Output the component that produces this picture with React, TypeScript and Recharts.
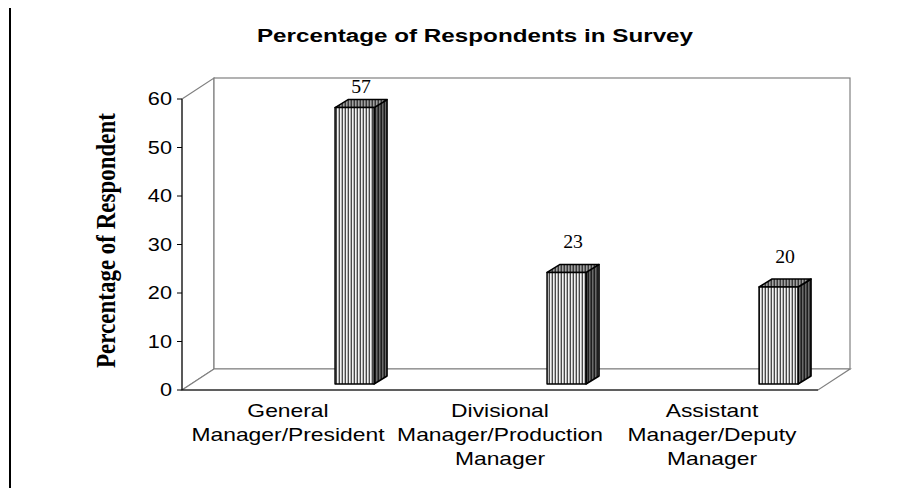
import { Bar, BarChart, LabelList, ReferenceArea, XAxis, YAxis } from 'recharts'

const categories = [
  'General\nManager/President',
  'Divisional\nManager/Production\nManager',
  'Assistant\nManager/Deputy\nManager',
]
const respondents = [57, 23, 20]
const valueTicks = [0, 10, 20, 30, 40, 50, 60]
const slotEdges = [0, 1, 2, 3]

const data = categories.map((name, i) => ({ name, value: respondents[i] }))
const valueDomain = [0, 60]
const slotDomain = [0, categories.length]

const MARGIN = { top: 99, right: 95, bottom: 45, left: 122 }
// text in this chart is drawn wide, so every label gets the same sideways scale
const STRETCH = 1.24
// offset of the back wall from the front plane
const DEPTH = { x: 32, y: 21 }
// column sits toward the back-right of its slot, lifted off the front edge
const COLUMN = { start: 0.722, size: 0.184, dx: 13, dy: 8, lift: 6 }
const SANS = '"Liberation Sans", Arial, sans-serif'
const SERIF = '"Liberation Serif", "Times New Roman", serif'

function Patterns() {
  return (
    <svg width={0} height={0} style={{ position: 'absolute' }}>
      <defs>
        <pattern id="stripe-front" patternUnits="userSpaceOnUse" width={3} height={10}>
          <rect width={3} height={10} fill="#f2f2f2" />
          <rect width={1} height={10} fill="#4a4a4a" />
          <rect x={2} width={1} height={10} fill="#b4b4b4" />
        </pattern>
        <pattern id="stripe-top" patternUnits="userSpaceOnUse" width={3} height={10}>
          <rect width={3} height={10} fill="#a0a0a0" />
          <rect width={1} height={10} fill="#3a3a3a" />
          <rect x={2} width={1} height={10} fill="#707070" />
        </pattern>
        <pattern id="stripe-side" patternUnits="userSpaceOnUse" width={3} height={10}>
          <rect width={3} height={10} fill="#6a6a6a" />
          <rect width={1} height={10} fill="#1e1e1e" />
          <rect x={2} width={1} height={10} fill="#444" />
        </pattern>
      </defs>
    </svg>
  )
}

function Walls({ x, y, width, height }: any) {
  const bx = x + DEPTH.x
  const by = y - DEPTH.y
  const floor = y + height
  return (
    <g fill="#fff" stroke="#808080" strokeWidth={1.2}>
      <polygon points={`${x},${y} ${bx},${by} ${bx},${floor - DEPTH.y} ${x},${floor}`} />
      <rect x={bx} y={by} width={width} height={height} />
      <polygon points={`${x},${floor} ${bx},${floor - DEPTH.y} ${bx + width},${floor - DEPTH.y} ${x + width},${floor}`} />
    </g>
  )
}

function Column({ x, y, width, height }: any) {
  const { dx, dy } = COLUMN
  const left = x + width * COLUMN.start
  const w = width * COLUMN.size
  const top = y - COLUMN.lift
  const bottom = y + height - COLUMN.lift
  const right = left + w
  return (
    <g stroke="#000" strokeWidth={1.5} strokeLinejoin="round">
      <polygon points={`${right},${top} ${right + dx},${top - dy} ${right + dx},${bottom - dy} ${right},${bottom}`} fill="url(#stripe-side)" />
      <polygon points={`${left},${top} ${left + dx},${top - dy} ${right + dx},${top - dy} ${right},${top}`} fill="url(#stripe-top)" />
      <rect x={left} y={top} width={w} height={bottom - top} fill="url(#stripe-front)" />
    </g>
  )
}

function ValueLabel({ x, y, width, value }: any) {
  const cx = x + width * (COLUMN.start + COLUMN.size / 2) + COLUMN.dx / 2
  const base = Math.max(y - 30, MARGIN.top - 6)
  return (
    <text transform={`translate(${cx},${base}) scale(1.1,1)`} textAnchor="middle" fontFamily={SERIF} fontSize={18} fill="#000">
      {value}
    </text>
  )
}

function ValueTick({ x, y, payload }: any) {
  return (
    <text transform={`translate(${x},${y}) scale(${STRETCH},1)`} textAnchor="end" dominantBaseline="central" fontFamily={SANS} fontSize={17.5} fill="#000">
      {payload.value}
    </text>
  )
}

function CategoryTick({ x, y, payload }: any) {
  const lines = String(payload.value).split('\n')
  return (
    <g transform={`translate(${x},${y}) scale(1.27,1)`}>
      {lines.map((line, i) => (
        <text key={i} y={26 + i * 24} textAnchor="middle" fontFamily={SANS} fontSize={18} fill="#000">
          {line}
        </text>
      ))}
    </g>
  )
}

function AxisTitle({ viewBox }: any) {
  const cx = viewBox.x - 17
  const cy = viewBox.y + viewBox.height / 2 - 4
  return (
    <text transform={`translate(${cx},${cy}) scale(1.2,1) rotate(-90)`} textAnchor="middle" dominantBaseline="central" fontFamily={SERIF} fontWeight="bold" fontSize={23} fill="#000">
      Percentage of Respondent
    </text>
  )
}

export default function App() {
  return (
    <div style={{ position: 'relative', width: 913, height: 496, margin: -8, background: '#fff', overflow: 'hidden' }}>
      <Patterns />
      <div style={{ position: 'absolute', left: 9, top: 6, width: 1000, height: 1000, borderLeft: '2px solid #000', borderTop: '2px solid #000' }} />
      <svg width={913} height={60} style={{ position: 'absolute', left: 0, top: 0 }}>
        <text transform={`translate(475,42) scale(1.31,1)`} textAnchor="middle" fontFamily={SANS} fontWeight="bold" fontSize={18.5} fill="#000">
          Percentage of Respondents in Survey
        </text>
      </svg>
      <div style={{ position: 'absolute', left: 0, top: 0 }}>
        <BarChart width={913} height={496} data={data} margin={MARGIN} barCategoryGap="0%">
          <ReferenceArea xAxisId="cat" y1={0} y2={60} ifOverflow="visible" shape={(p: any) => <Walls {...p} />} />
          {/* numeric id keeps this axis first, right on the floor edge; it only carries the slot dividers */}
          <XAxis xAxisId={0} type="number" domain={slotDomain} ticks={slotEdges} tick={false} tickSize={5} stroke="#000" height={1} allowDataOverflow />
          <XAxis xAxisId="cat" dataKey="name" interval={0} axisLine={false} tickLine={false} tickSize={0} tickMargin={0} height={60} tick={<CategoryTick />} />
          <YAxis domain={valueDomain} ticks={valueTicks} interval={0} width={60} tickSize={5} tickMargin={5} stroke="#000" tick={<ValueTick />} label={{ content: <AxisTitle /> }} />
          <Bar xAxisId="cat" dataKey="value" isAnimationActive={false} shape={(p: any) => <Column {...p} />}>
            <LabelList dataKey="value" content={(p: any) => <ValueLabel {...p} />} />
          </Bar>
        </BarChart>
      </div>
    </div>
  )
}
